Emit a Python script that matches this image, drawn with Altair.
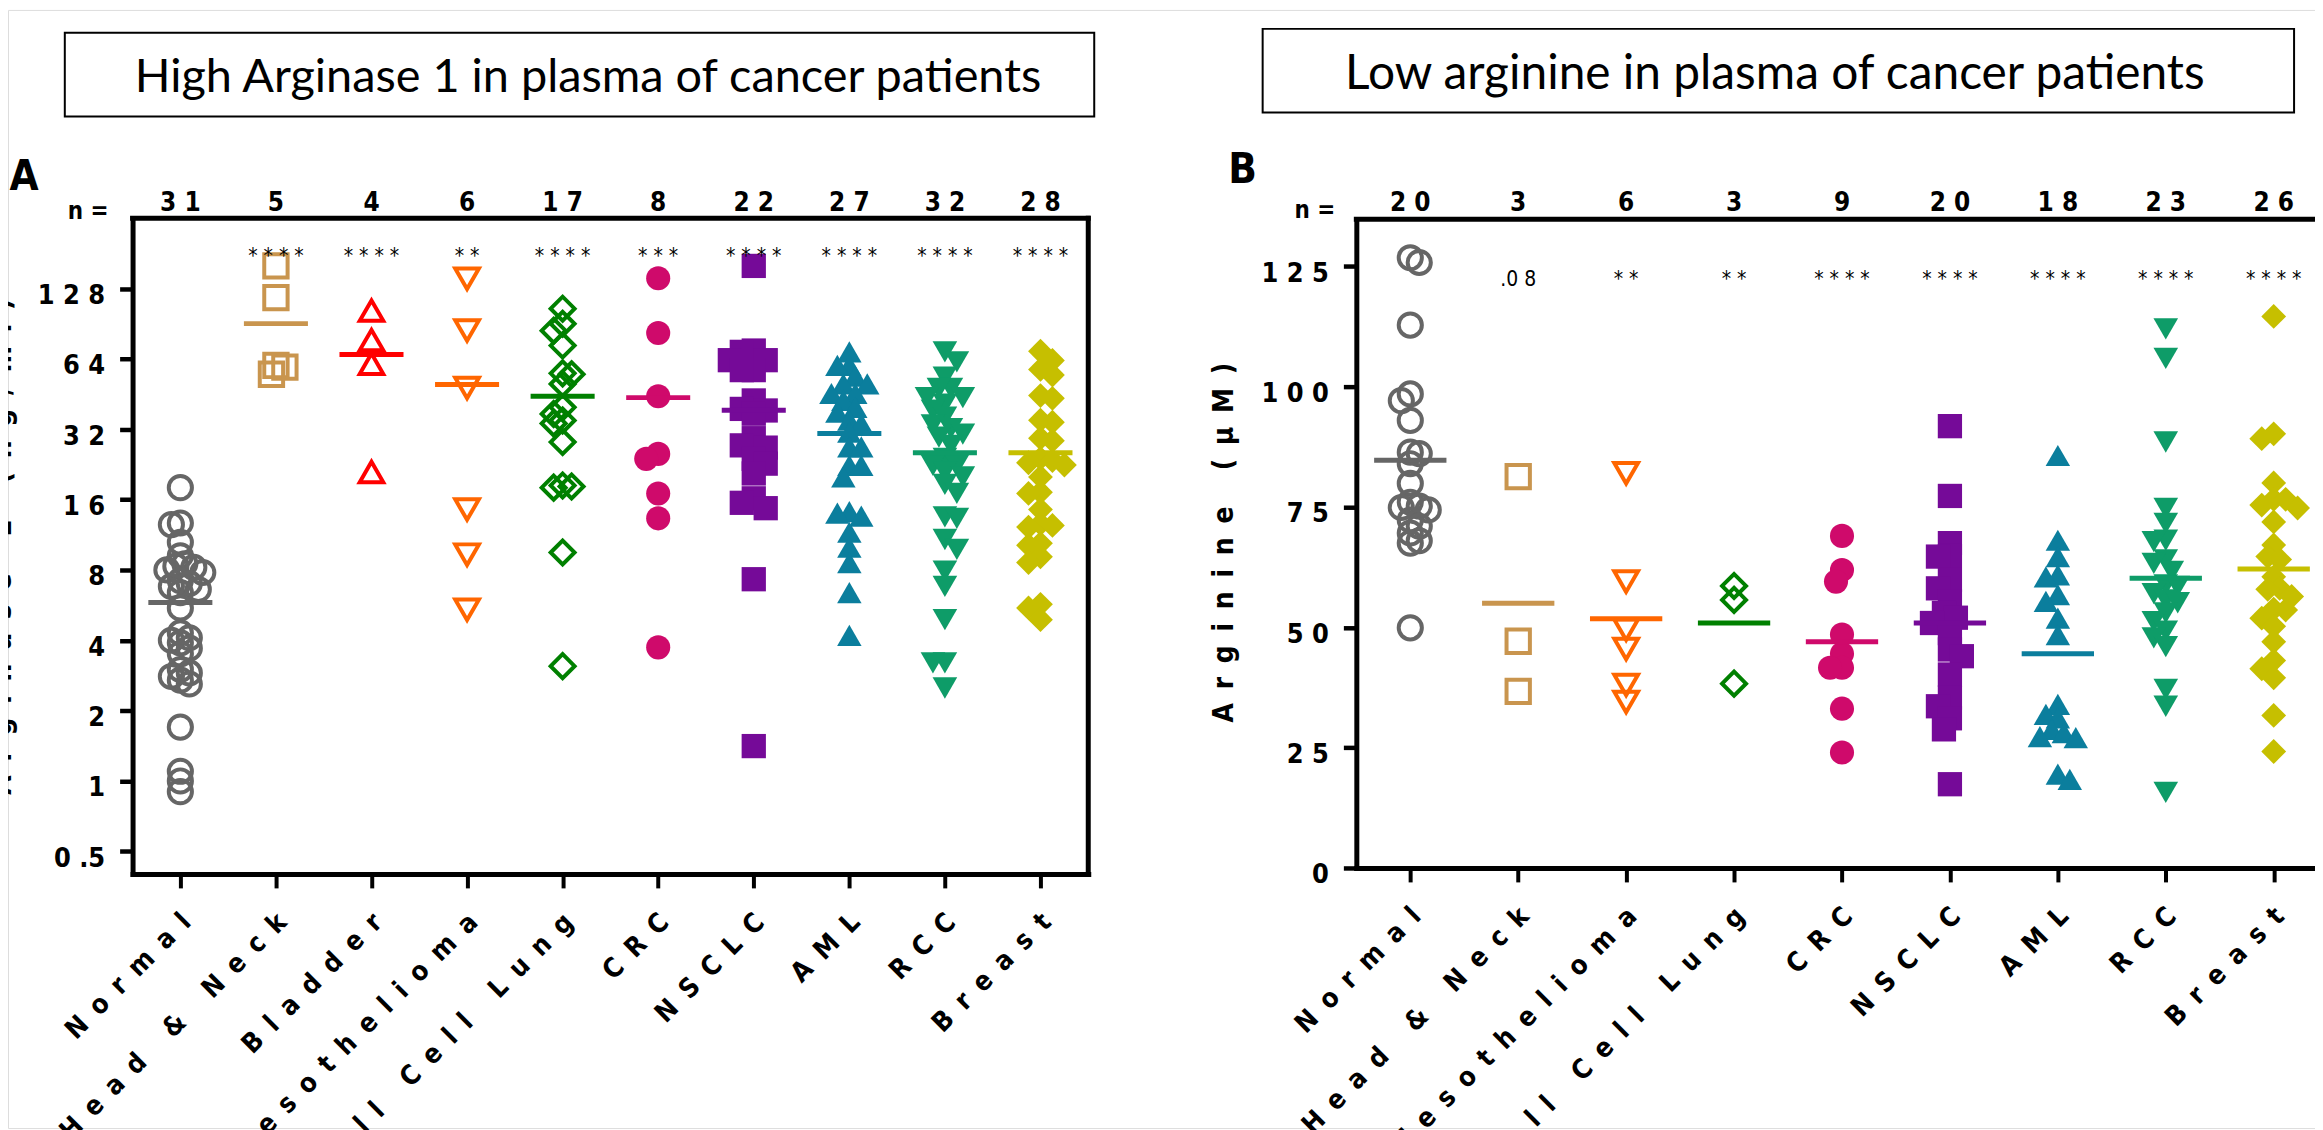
import json
import math
import altair as alt
import pandas as pd

# ---------------- data ----------------
cats_A = ["Normal", "Head & Neck", "Bladder", "Mesothelioma", "Small Cell Lung",
          "CRC", "NSCLC", "AML", "RCC", "Breast"]
cats_B = ["Normal", "Head & Neck", "Mesothelioma", "Small Cell Lung",
          "CRC", "NSCLC", "AML", "RCC", "Breast"]
open_cats = ["Normal", "Head & Neck", "Bladder", "Mesothelioma", "Small Cell Lung"]

n_A = [31, 5, 4, 6, 17, 8, 22, 27, 32, 28]
n_B = [20, 3, 6, 3, 9, 20, 18, 23, 26]
sig_A = ["", "****", "****", "**", "****", "***", "****", "****", "****", "****"]
sig_B = ["", ".08", "**", "**", "****", "****", "****", "****", "****"]

yticks_A = [0.5, 1, 2, 4, 8, 16, 32, 64, 128]
ylabels_A = ["0 .5", "1", "2", "4", "8", "1 6", "3 2", "6 4", "1 2 8"]
yticks_B = [0, 25, 50, 75, 100, 125]
ylabels_B = ["0", "2 5", "5 0", "7 5", "1 0 0", "1 2 5"]

title_A = "High Arginase 1 in plasma of cancer patients"
title_B = "Low arginine in plasma of cancer patients"
ytitle_A = "Arginase 1 (ng/ml)"
ytitle_B = "Arginine (µM)"

# Panel A: Arginase 1 (ng/ml)
a_normal = [18.0, 12.7, 12.5, 10.5, 9.2, 8.5, 8.3, 8.2, 8.0, 7.8, 7.2, 7.0, 6.8, 6.6, 6.4,
            5.5, 4.3, 4.1, 4.0, 3.9, 3.7, 3.5, 3.0, 2.9, 2.8, 2.7, 2.6, 1.7, 1.1, 1.0, 0.9]
a_head_neck = [160, 117, 60, 59, 55]
a_bladder = [103, 77, 61, 21]
a_meso = [141, 84.6, 48, 14.5, 9.3, 5.4]
a_scl = [105, 90.5, 84.5, 73, 55.5, 55, 50, 39.7, 37.2, 34.9, 33.9, 28.2, 18.4, 18.2, 18.0, 9.5, 3.1]
a_crc = [141.6, 82.6, 44.3, 25.1, 23.9, 17.0, 13.3, 3.73]
a_nsclc = [160, 69.5, 68.6, 63.2, 63.2, 57.3, 57.3, 42.5, 39.1, 38.5, 37.3, 29.3, 27.3, 26.7,
           23.9, 22.8, 20.7, 16.2, 15.5, 14.7, 7.3, 1.41]
a_aml = [68.6, 60, 60, 54, 50, 50, 45.5, 45.5, 42.5, 39.7, 37.9, 35, 33.8, 31.1, 26.9, 26.9,
         22.4, 22.4, 20.0, 14.2, 14.0, 13.6, 11.6, 10.0, 8.6, 6.4, 4.2]
a_rcc = [68.6, 62.2, 53.4, 47.8, 47.8, 43.7, 43.7, 41, 38.6, 36, 33.4, 32.2, 30.5, 29.6, 27.3, 24,
         22.4, 22.4, 21, 20, 18.6, 17, 13.5, 13.3, 10.8, 9.8, 7.9, 6.8, 4.9, 3.2, 3.2, 2.5]
a_breast = [69, 63, 57.7, 54.6, 44.6, 43.4, 35, 34.3, 29.3, 28.6, 24, 23.5, 23, 22.5, 20, 17.2,
            17, 14.5, 12.6, 12.4, 12.2, 10.4, 10.2, 9.1, 8.6, 5.7, 5.5, 4.9]
mean_A = [5.8, 90.6, 66.8, 49.7, 44.3, 43.7, 38.6, 30.7, 25.4, 25.4]

# Panel B: Arginine (uM)
b_normal = [126.8, 125.8, 112.8, 98.5, 97.1, 93, 86.4, 86.1, 84, 79.9, 76, 75.2, 74.9, 74.4,
            72.3, 71, 69.6, 68, 67.5, 49.9]
b_head_neck = [81.3, 47.1, 36.7]
b_meso = [82, 59.5, 49.5, 45.5, 38, 34.5]
b_scl = [58.6, 55.7, 38.3]
b_crc = [69, 61.9, 59.5, 48.5, 44.5, 41.6, 41.6, 33.1, 24]
b_nsclc = [91.8, 77.3, 67.5, 64.8, 64.7, 59.9, 58.1, 55.4, 53, 52, 50.9, 48.8, 45.4, 44, 40.2,
           35.4, 33.6, 31.1, 28.8, 17.4]
b_aml = [85.7, 68.1, 64.7, 60.9, 60.5, 56.8, 55.4, 51.9, 48.5, 34, 31.9, 31.2, 28.8, 28.1, 27.3,
         27.1, 19.5, 18.4]
b_rcc = [112, 105.9, 88.5, 74.7, 71.6, 68.1, 67.8, 64, 63.3, 61.6, 58.8, 58.5, 57, 55.7, 55.1,
         53, 51.2, 49.2, 47.8, 46, 37.1, 33.6, 15.7]
b_breast = [114.6, 90.2, 89.2, 80, 76.6, 76.6, 75.4, 74.8, 71.9, 67.1, 64.7, 64.1, 60.5, 58.1,
            57.9, 56.4, 53.8, 53.6, 51.9, 50.2, 47, 43.1, 41.4, 39.5, 31.7, 24.2]
mean_B = [84.7, 55.0, 51.8, 50.9, 47.0, 50.9, 44.5, 60.2, 62.1]

values_A = [a_normal, a_head_neck, a_bladder, a_meso, a_scl, a_crc, a_nsclc, a_aml, a_rcc, a_breast]
values_B = [b_normal, b_head_neck, b_meso, b_scl, b_crc, b_nsclc, b_aml, b_rcc, b_breast]

# ---------------- styles ----------------
colors = ["#666666", "#C9954E", "#FF0000", "#FF6600", "#008000",
          "#CF0A6B", "#750A98", "#0B7E9D", "#0E9C68", "#C6BF00"]
shapes = ["circle", "square", "triangle-up", "triangle-down", "diamond",
          "circle", "square", "triangle-up", "triangle-down", "diamond"]
sizes = [540, 620, 640, 640, 560, 430, 400, 500, 500, 480]

AXF = "DejaVu Sans Condensed, DejaVu Sans, sans-serif"
TF = "Lato, Open Sans, sans-serif"
NB = "\u00a0"
TH = "\u2009"
LSEP = NB + TH
WSEP = NB + TH + NB + TH + NB


def spaced(s):
    return WSEP.join(LSEP.join(w) for w in s.split(" "))


def lookup_expr(vals, labels):
    expr = "''"
    for v, lab in reversed(list(zip(vals, labels))):
        expr = f"(abs(datum.value - {v}) < 1e-6 ? {json.dumps(lab, ensure_ascii=False)} : {expr})"
    return expr


W, H = 2315, 1122


def gx(p):
    return p - 8


def gy(p):
    return p - 8


XA_DOM = [-0.5, 9.5]
YA_DOM = [0.4, 256]
XB_DOM = [-0.5, 8.5]
YB_DOM = [0, 134.8]
A_LEFT, A_RIGHT, A_TOP, A_BOT = 133, 1092, 217, 875
B_LEFT, B_STEP, B_TOP, B_BOT = 1361, 108.3, 218, 869

xA = alt.Scale(domain=XA_DOM, range=[gx(A_LEFT), gx(A_RIGHT)], nice=False, zero=False)
yA = alt.Scale(type="log", base=2, domain=YA_DOM, range=[gy(A_BOT), gy(A_TOP)], nice=False)
xB = alt.Scale(domain=XB_DOM, range=[gx(B_LEFT), gx(B_LEFT + 9 * B_STEP)], nice=False, zero=False)
yB = alt.Scale(domain=YB_DOM, range=[gy(B_BOT), gy(B_TOP)], nice=False, zero=False)

colorS = alt.Color("cat:N", scale=alt.Scale(domain=cats_A, range=colors), legend=None)
shapeS = alt.Shape("cat:N", scale=alt.Scale(domain=cats_A, range=shapes), legend=None)
sizeS = alt.Size("cat:O", scale=alt.Scale(domain=cats_A, range=sizes), legend=None)


def swarm(vals, to_px, step_px, gap):
    order = sorted(range(len(vals)), key=lambda i: -vals[i])
    placed = []
    offs = [0.0] * len(vals)
    h = gap / 2.0
    for i in order:
        y = to_px(vals[i])
        chosen = None
        for j in range(0, 40):
            signs = [1] if j == 0 else ([1, -1] if len(placed) % 2 else [-1, 1])
            for s in signs:
                x = s * j * h
                if all((x - px) ** 2 + (y - py) ** 2 >= gap * gap for px, py in placed):
                    chosen = x
                    break
            if chosen is not None:
                break
        placed.append((chosen, y))
        offs[i] = chosen / step_px
    return offs


def points_df(cats, value_lists, to_px, step_px):
    rows = []
    for i, (c, vals) in enumerate(zip(cats, value_lists)):
        is_open = c in open_cats
        offs = swarm(vals, to_px, step_px, 9 if is_open else 12)
        for v, o in zip(vals, offs):
            rows.append(dict(cat=c, idx=i, xpos=i + o, v=v, open=is_open))
    return pd.DataFrame(rows)


step_A = (A_RIGHT - A_LEFT) / 10.0
pxA = (A_BOT - A_TOP) / (math.log2(YA_DOM[1]) - math.log2(YA_DOM[0]))
pxB = (B_BOT - B_TOP) / (YB_DOM[1] - YB_DOM[0])
dfA = points_df(cats_A, values_A, lambda v: pxA * math.log2(v), step_A)
dfB = points_df(cats_B, values_B, lambda v: pxB * v, B_STEP)


def x_axis(labels, y_page):
    return alt.Axis(orient="bottom", offset=gy(y_page) - H, values=list(range(len(labels))),
                    labelExpr=lookup_expr(list(range(len(labels))), labels),
                    labelAngle=315, labelAlign="right", labelBaseline="middle", labelPadding=30,
                    labelOffset=6,
                    labelFont=AXF, labelFontSize=27, labelFontWeight="bold", labelColor="black",
                    labelOverlap=False, labelFlush=False, labelLimit=2000,
                    tickSize=14, tickWidth=4, tickColor="black",
                    domainWidth=5, domainColor="black", domainCap="square", grid=False, title=None)


def y_axis(vals, labels, x_page, title, title_x_page, title_y_page):
    return alt.Axis(orient="left", offset=-gx(x_page), values=vals,
                    labelExpr=lookup_expr(vals, labels),
                    labelFont=AXF, labelFontSize=27, labelFontWeight="bold", labelColor="black",
                    labelPadding=15, labelOffset=7, labelOverlap=False, labelFlush=False,
                    labelLimit=2000,
                    tickSize=13, tickWidth=4.5, tickColor="black",
                    domainWidth=5, domainColor="black", domainCap="square", grid=False,
                    title=spaced(title), titleFont=AXF, titleFontSize=28, titleFontWeight="bold",
                    titleColor="black", titleAngle=270, titleLimit=2000,
                    titleX=gx(title_x_page) - gx(x_page), titleY=gy(title_y_page),
                    titleAlign="center", titleBaseline="alphabetic")


def panel(cats, df, means, ns, sigs, xs, ys, xdom, ydom, xax, yax,
          count_y, star_y, nlab_x, nlab_y):
    X = lambda f: alt.X(f, scale=xs, axis=xax)
    Y = lambda f: alt.Y(f, scale=ys, axis=yax)
    frame_df = pd.DataFrame([dict(x1=xdom[0], x2=xdom[1], y1=ydom[1], y2=ydom[1]),
                             dict(x1=xdom[1], x2=xdom[1], y1=ydom[0], y2=ydom[1])])
    frame = alt.Chart(frame_df).mark_rule(color="black", strokeWidth=5, strokeCap="square").encode(
        x=X("x1:Q"), x2="x2:Q", y=Y("y1:Q"), y2="y2:Q")
    opn = alt.Chart(df[df.open]).mark_point(filled=False, strokeWidth=4, opacity=1).encode(
        x=X("xpos:Q"), y=Y("v:Q"), color=colorS, shape=shapeS, size=sizeS)
    fil = alt.Chart(df[~df.open]).mark_point(filled=True, opacity=1, strokeWidth=0).encode(
        x=X("xpos:Q"), y=Y("v:Q"), color=colorS, shape=shapeS, size=sizeS)
    mdf = pd.DataFrame(dict(cat=cats, idx=list(range(len(cats))), m=means))
    mean = alt.Chart(mdf).transform_calculate(
        x1="datum.idx - 0.335", x2="datum.idx + 0.335"
    ).mark_rule(strokeWidth=5).encode(x=X("x1:Q"), x2="x2:Q", y=Y("m:Q"), color=colorS)
    tdf = pd.DataFrame(dict(idx=list(range(len(cats))),
                            lab=[" ".join(str(n)) for n in ns],
                            sig=[(s[:2] + " " + s[2:]) if s.startswith(".") else " ".join(s) for s in sigs]))
    counts = alt.Chart(tdf).mark_text(font=AXF, fontSize=26, fontWeight="bold", baseline="alphabetic",
                                      align="center", color="black").encode(
        x=X("idx:Q"), y=alt.value(gy(count_y)), text="lab:N")
    stars = alt.Chart(tdf).mark_text(font=AXF, fontSize=21, baseline="alphabetic",
                                     align="center", color="black").encode(
        x=X("idx:Q"), y=alt.value(gy(star_y)), text="sig:N")
    nlab = alt.Chart(pd.DataFrame([{"t": "n ="}])).mark_text(
        font=AXF, fontSize=24, fontWeight="bold", baseline="alphabetic", align="right", color="black"
    ).encode(x=alt.value(gx(nlab_x)), y=alt.value(gy(nlab_y)), text="t:N")
    return alt.layer(frame, opn, fil, mean, counts, stars, nlab)


xlabels_A = [spaced(c) for c in cats_A]
xlabels_B = [spaced(c) for c in cats_B]

pA = panel(cats_A, dfA, mean_A, n_A, sig_A, xA, yA, XA_DOM, YA_DOM,
           x_axis(xlabels_A, A_BOT),
           y_axis(yticks_A, ylabels_A, A_LEFT, ytitle_A, 11, 546),
           count_y=210, star_y=262, nlab_x=109, nlab_y=218)
pB = panel(cats_B, dfB, mean_B, n_B, sig_B, xB, yB, XB_DOM, YB_DOM,
           x_axis(xlabels_B, B_BOT),
           y_axis(yticks_B, ylabels_B, B_LEFT, ytitle_B, 1237, 542),
           count_y=210, star_y=285, nlab_x=1340, nlab_y=217)

# ---------------- decorations ----------------
one = pd.DataFrame([{"k": 0}])
boxA = alt.Chart(one).mark_rect(fill="white", stroke="black", strokeWidth=2).encode(
    x=alt.value(gx(65)), x2=alt.value(gx(1098)), y=alt.value(gy(31)), y2=alt.value(gy(115)))
boxB = alt.Chart(one).mark_rect(fill="white", stroke="black", strokeWidth=2).encode(
    x=alt.value(gx(1267)), x2=alt.value(gx(2302)), y=alt.value(gy(27)), y2=alt.value(gy(111)))
tA = alt.Chart(one).mark_text(text=title_A, font=TF, fontSize=47, align="center",
                              baseline="alphabetic", color="black").encode(
    x=alt.value(gx(590)), y=alt.value(gy(90)))
tB = alt.Chart(one).mark_text(text=title_B, font=TF, fontSize=48, align="center",
                              baseline="alphabetic", color="black").encode(
    x=alt.value(gx(1781)), y=alt.value(gy(87)))
lA = alt.Chart(one).mark_text(text="A", font=AXF, fontSize=42, fontWeight="bold", align="center",
                              baseline="alphabetic", color="black").encode(
    x=alt.value(gx(24)), y=alt.value(gy(189)))
lB = alt.Chart(one).mark_text(text="B", font=AXF, fontSize=42, fontWeight="bold", align="center",
                              baseline="alphabetic", color="black").encode(
    x=alt.value(gx(1247)), y=alt.value(gy(182)))

chart = alt.layer(pA, pB, boxA, boxB, tA, tB, lA, lB).resolve_scale(
    x="independent", y="independent"
).properties(
    width=W, height=H, autosize=alt.AutoSizeParams(type="none"), padding=0
).configure_view(stroke=None).configure(background="white")

chart.save("out.html", embed_options={"renderer": "svg", "actions": False})
